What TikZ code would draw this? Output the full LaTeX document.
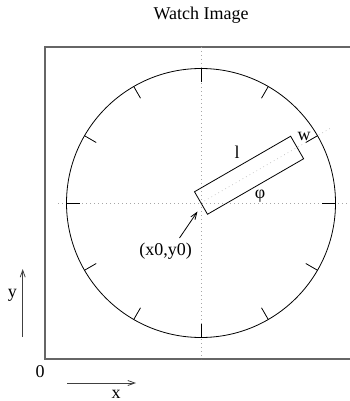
\documentclass[tikz,border=0pt]{standalone}
\usepackage{fontspec}
\setmainfont{Liberation Serif}
\usetikzlibrary{arrows.meta,calc}
\begin{document}
\begin{tikzpicture}[x=1pt,y=-1pt,
  lbl/.style={inner sep=0pt,anchor=base,font=\fontsize{18}{20}\selectfont},
  frame/.style={draw=black!60,line width=1.2pt},
  guide/.style={draw=black!35,line width=0.5pt,dash pattern=on 0.8pt off 3.2pt},
  thin/.style={draw=black,line width=0.8pt},
  tip/.style={-{Straight Barb[length=7pt,width=5pt]}},
  axis/.style={draw=black!75,line width=0.8pt}]
\useasboundingbox (0,0) rectangle (350,401);
% title
\node[lbl] (title) at (201,20) {Watch Image};
% frame (right side lies outside the picture)
\draw[frame] (350,47) -- (45,47) -- (45,359) -- (350,359);
% centre and guides
\coordinate (c) at (201,203);
\draw[guide] (201,47) -- (201,359);
\draw[guide] (58,203) -- (350,203);
\draw[guide] (c) -- (332.6,127);
% dial
\draw[thin] (c) circle[radius=134.5];
\foreach \a in {0,30,...,330}
  \draw[thin] ($(c)+(\a:134.5)$) -- ($(c)+(\a:121)$);
% hand
\node[draw,thin,rotate=30,anchor=west,minimum width=111pt,minimum height=26pt,inner sep=0pt,outer sep=0pt] (hand) at (c) {};
\node[lbl] (l) at (237,158) {l};
\node[lbl] (phi) at (260,198) {φ};
\node[lbl] (w) at (304,140) {w};
% origin label
\node[lbl] (xy) at (165.5,255) {(x0,y0)};
\coordinate (hc) at (197.5,211.5);
\draw[thin,tip] (179.5,238) -- (hc);
% axes
\node[lbl] (o) at (40,377.7) {0};
\coordinate (ya) at (22.7,337);
\coordinate (yb) at (22.7,269);
\draw[axis,tip] (ya) -- (yb);
\node[lbl] (y) at (12.3,297.7) {y};
\coordinate (xa) at (67,383);
\coordinate (xb) at (136,383);
\draw[axis,tip] (xa) -- (xb);
\node[lbl] (x) at (116,398) {x};
\end{tikzpicture}
\end{document}
